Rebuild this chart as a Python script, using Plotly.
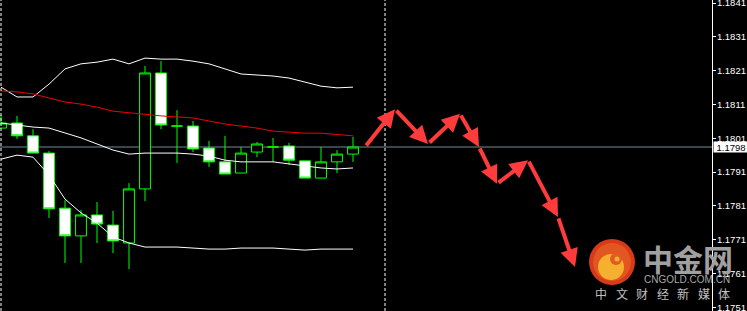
import plotly.graph_objects as go

# ---------------- data ----------------
bar_index = list(range(23))
open_p = [1.18040, 1.18055, 1.18017, 1.17966, 1.17803, 1.17721, 1.17783, 1.17753, 1.17700, 1.17860,
          1.18203, 1.18046, 1.18046, 1.17981, 1.17940, 1.17907, 1.17969, 1.17984, 1.17987, 1.17943,
          1.17892, 1.17940, 1.17963]
high_p = [1.18079, 1.18076, 1.18037, 1.17972, 1.17827, 1.17798, 1.17821, 1.17795, 1.17877, 1.18224,
          1.18238, 1.18093, 1.18061, 1.18002, 1.18017, 1.17984, 1.17999, 1.18011, 1.17996, 1.17943,
          1.17984, 1.17975, 1.18014]
low_p = [1.18040, 1.18008, 1.17966, 1.17774, 1.17641, 1.17641, 1.17700, 1.17670, 1.17623, 1.17824,
         1.18037, 1.17937, 1.17969, 1.17925, 1.17904, 1.17907, 1.17954, 1.17940, 1.17931, 1.17892,
         1.17892, 1.17907, 1.17940]
close_p = [1.18055, 1.18017, 1.17966, 1.17801, 1.17721, 1.17783, 1.17756, 1.17706, 1.17860, 1.18203,
           1.18049, 1.18046, 1.17978, 1.17940, 1.17904, 1.17966, 1.17993, 1.17984, 1.17945, 1.17892,
           1.17940, 1.17963, 1.17984]

bb_upper = [1.18161, 1.18132, 1.18132, 1.18170, 1.18215, 1.18230, 1.18235, 1.18244, 1.18230, 1.18247,
            1.18244, 1.18244, 1.18238, 1.18230, 1.18215, 1.18200, 1.18197, 1.18194, 1.18188, 1.18176,
            1.18164, 1.18159, 1.18161]
bb_middle = [1.18055, 1.18049, 1.18043, 1.18040, 1.18025, 1.18011, 1.17993, 1.17975, 1.17963, 1.17966,
             1.17966, 1.17966, 1.17963, 1.17957, 1.17945, 1.17940, 1.17940, 1.17940, 1.17934, 1.17928,
             1.17922, 1.17919, 1.17922]
bb_lower = [1.17948, 1.17960, 1.17954, 1.17901, 1.17830, 1.17789, 1.17759, 1.17718, 1.17700, 1.17688,
            1.17688, 1.17688, 1.17685, 1.17682, 1.17682, 1.17685, 1.17685, 1.17685, 1.17682, 1.17679,
            1.17682, 1.17682, 1.17682]
ma_red = [1.18150, 1.18147, 1.18141, 1.18129, 1.18117, 1.18111, 1.18102, 1.18090, 1.18085, 1.18082,
          1.18076, 1.18073, 1.18070, 1.18061, 1.18052, 1.18046, 1.18040, 1.18031, 1.18028, 1.18025,
          1.18025, 1.18022, 1.18017]

price_now = 1.17984
price_label = "1.1798"
tick_vals = [1.1751, 1.1761, 1.1771, 1.1781, 1.1791, 1.1801, 1.1811, 1.1821, 1.1831, 1.1841]
tick_text = ["1.1751", "1.1761", "1.1771", "1.1781", "1.1791", "1.1801", "1.1811", "1.1821", "1.1831", "1.1841"]
separators = [0, 24]

forecast_x = [22.75, 24.625, 26.69, 28.69, 29.875, 31.0, 32.94, 34.81, 35.875]
forecast_y = [1.17984, 1.18096, 1.17993, 1.18082, 1.17984, 1.17875, 1.17945, 1.17777, 1.17629]

logo_title = "中金网"
logo_site = "CNGOLD.COM.CN"
logo_slogan = ["中", "文", "财", "经", "新", "媒", "体"]

# ---------------- figure ----------------
W, H = 747, 311
PLOT_W = 712

fig = go.Figure()

fig.add_trace(go.Candlestick(
    x=bar_index, open=open_p, high=high_p, low=low_p, close=close_p,
    increasing=dict(line=dict(color="#00ff00", width=1), fillcolor="#000000"),
    decreasing=dict(line=dict(color="#00ff00", width=1), fillcolor="#ffffff"),
    whiskerwidth=0, showlegend=False, hoverinfo="skip"))

for series, col in [(bb_upper, "#ffffff"), (bb_middle, "#ffffff"), (bb_lower, "#ffffff"), (ma_red, "#f00000")]:
    fig.add_trace(go.Scatter(x=bar_index, y=series, mode="lines",
                             line=dict(color=col, width=1), showlegend=False, hoverinfo="skip"))

shapes = []
# bid line
shapes.append(dict(type="line", xref="paper", x0=0, x1=1, yref="y", y0=price_now, y1=price_now,
                   line=dict(color="#778899", width=1), layer="below"))
# period separators
for s in separators:
    shapes.append(dict(type="line", xref="x", x0=s, x1=s, yref="paper", y0=0, y1=1,
                       line=dict(color="#ffffff", width=1, dash="3px,2px"), layer="above"))


def px(x):
    return x / PLOT_W


def py(y):
    return 1 - y / H


def circle(cx, cy, r, color, rx=None):
    rx = r if rx is None else rx
    return dict(type="circle", xref="paper", yref="paper",
                x0=px(cx - rx), x1=px(cx + rx), y0=py(cy + r), y1=py(cy - r),
                fillcolor=color, line=dict(width=0), layer="above")


# logo
shapes.append(circle(612, 262, 23, "#d63a1a"))
shapes.append(circle(612, 262, 19, "#e4561f"))
shapes.append(circle(611, 267, 13, "#f5b030", rx=13))
shapes.append(circle(616, 259, 6, "#e35a24"))
shapes.append(circle(617, 259, 2.5, "#f5b030"))

annotations = []
# forecast arrows
for i in range(len(forecast_x) - 1):
    annotations.append(dict(
        x=forecast_x[i + 1], y=forecast_y[i + 1], ax=forecast_x[i], ay=forecast_y[i],
        xref="x", yref="y", axref="x", ayref="y", text="", showarrow=True,
        arrowhead=2, arrowsize=0.9, arrowwidth=4, arrowcolor="#ff3b3b",
        standoff=0, startstandoff=0))

# price label
annotations.append(dict(x=1, xref="paper", y=price_now, yref="y", xanchor="left", yanchor="middle",
                        xshift=1, text=price_label, showarrow=False, bgcolor="#ffffff",
                        width=34, height=10, borderpad=0, align="center",
                        font=dict(family="Liberation Sans", size=9.5, color="#000000")))

# logo texts
annotations.append(dict(x=px(641), y=py(258), xref="paper", yref="paper", xanchor="left", yanchor="middle",
                        text="<b>" + logo_title + "</b>", showarrow=False,
                        font=dict(family="Noto Sans CJK SC", size=30, color="#a0a0a0")))
annotations.append(dict(x=px(642), y=py(279.5), xref="paper", yref="paper", xanchor="left", yanchor="middle",
                        text=logo_site, showarrow=False,
                        font=dict(family="Liberation Sans", size=10, color="#a8a8a8")))
for k, ch in enumerate(logo_slogan):
    annotations.append(dict(x=px(593 + 20.5 * k), y=py(293), xref="paper", yref="paper",
                            xanchor="left", yanchor="middle", text=ch, showarrow=False,
                            font=dict(family="Noto Sans CJK SC", size=12, color="#c0c0c0")))

fig.update_layout(
    width=W, height=H,
    margin=dict(l=0, r=W - PLOT_W, t=0, b=0, pad=0),
    paper_bgcolor="#000000", plot_bgcolor="#000000",
    template="none",
    boxgap=0.32, boxgroupgap=0,
    showlegend=False,
    xaxis=dict(range=[-0.0625, 44.4375], visible=False, fixedrange=True,
               rangeslider=dict(visible=False)),
    yaxis=dict(range=[1.174988, 1.184189], side="right", showgrid=False, zeroline=False,
               showline=True, linecolor="#ffffff", linewidth=1, mirror=False,
               ticks="outside", ticklen=3, tickcolor="#ffffff", tickwidth=1,
               tickvals=tick_vals, ticktext=tick_text, automargin=False,
               ticklabeloverflow="allow", ticklabelstandoff=-1,
               tickfont=dict(family="Liberation Sans", size=9.5, color="#ffffff"),
               fixedrange=True),
    shapes=shapes, annotations=annotations,
)

fig.write_html("out.html")
